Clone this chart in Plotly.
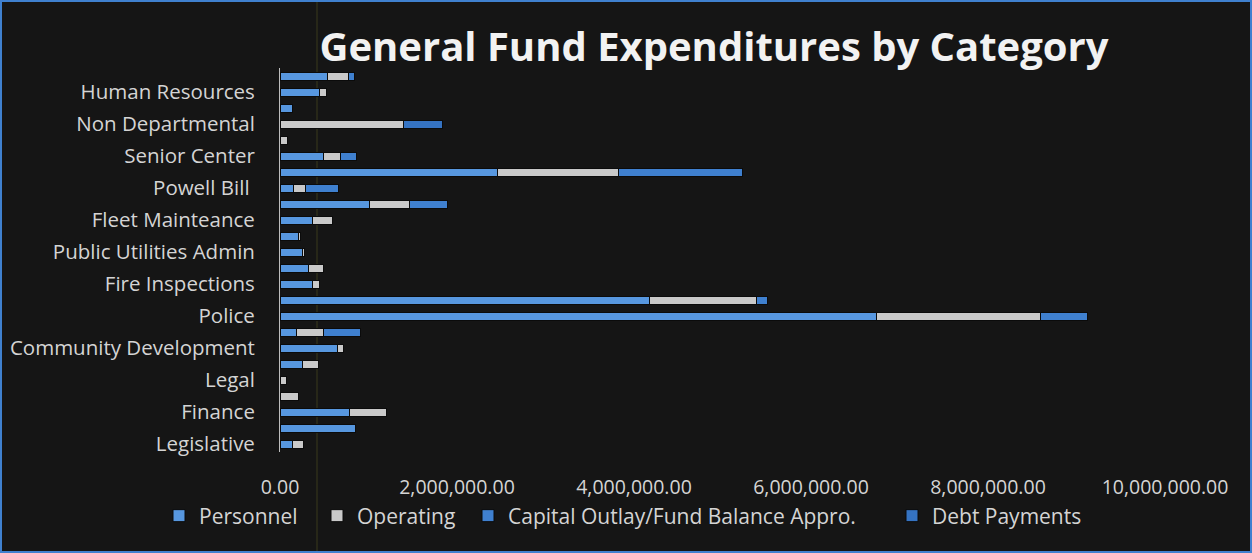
import plotly.graph_objects as go

# Bar positions from bottom (0) to top (23); only every other row is labelled
tick_positions = [0, 2, 4, 6, 8, 10, 12, 14, 16, 18, 20, 22]
tick_labels = ["Legislative", "Finance", "Legal", "Community Development", "Police",
               "Fire Inspections", "Public Utilities Admin", "Fleet Mainteance",
               "Powell Bill ", "Senior Center", "Non Departmental", "Human Resources"]
rows = list(range(24))

personnel = [141000, 853000, 785000, 0, 0, 254000, 650000, 186000, 6740000, 4180000,
             367000, 322000, 254000, 209000, 367000, 1011000, 153000, 2458000, 492000,
             0, 0, 141000, 446000, 537000]
operating = [124000, 0, 418000, 209000, 75000, 181000, 68000, 305000, 1853000, 1200000,
             80000, 170000, 23000, 20000, 226000, 452000, 136000, 1367000, 192000,
             85000, 1395000, 0, 79000, 237000]
capital = [0, 0, 0, 0, 0, 0, 0, 418000, 530000, 124000,
           0, 0, 0, 0, 0, 429000, 373000, 1401000, 181000,
           0, 0, 0, 0, 68000]
debt = [0, 0, 0, 0, 0, 0, 0, 0, 0, 0,
        0, 0, 0, 0, 0, 0, 0, 0, 0,
        0, 441000, 0, 0, 0]

series_names = ["Personnel", "Operating", "Capital Outlay/Fund Balance Appro.", "Debt Payments"]
series_values = [personnel, operating, capital, debt]
series_colors = ["#5797df", "#c9c9c9", "#3f80cf", "#3573c2"]

W, H = 1252, 553
L, R, T, B = 280, 87, 68, 101
PW, PH = W - L - R, H - T - B

fig = go.Figure()
legend_x = [159, 317, 468, 892]
for i, (name, vals, col) in enumerate(zip(series_names, series_values, series_colors)):
    lg = "legend" if i == 0 else f"legend{i+1}"
    fig.add_trace(go.Bar(
        y=rows, x=vals, name=name, orientation="h",
        marker=dict(color=col, line=dict(color="#0b0b0b", width=1)),
        legend=lg,
    ))

leg_common = dict(orientation="h", bgcolor="rgba(0,0,0,0)",
                  font=dict(family="Open Sans", size=21, color="#d4d4d4"),
                  xref="container", yref="container", xanchor="left", yanchor="middle",
                  itemwidth=30, tracegroupgap=0)

fig.update_layout(
    width=W, height=H,
    barmode="stack", bargap=0.5,
    paper_bgcolor="#151515", plot_bgcolor="#151515",
    margin=dict(l=L, r=R, t=T, b=B, autoexpand=False),
    title=dict(text="<b>General Fund Expenditures by Category</b>",
               font=dict(family="Open Sans", size=40, color="#f2f2f2"),
               x=714 / W, xref="container", xanchor="center",
               y=1 - 47 / H, yref="container", yanchor="middle"),
    xaxis=dict(range=[0, 10000000], dtick=2000000, tickformat=",.2f",
               showgrid=False, zeroline=False, showline=False, automargin=False,
               tickfont=dict(family="Open Sans", size=19.5, color="#d4d4d4"),
               ticklabelstandoff=21),
    yaxis=dict(range=[-0.5, 23.5], tickmode="array", tickvals=tick_positions,
               ticktext=tick_labels, showgrid=False, zeroline=False, automargin=False,
               showline=True, linecolor="#bdbdbd", linewidth=1,
               tickfont=dict(family="Open Sans", size=20.5, color="#d4d4d4"),
               ticklabelstandoff=20),
    showlegend=True,
)
for i in range(4):
    key = "legend" if i == 0 else f"legend{i+1}"
    fig.update_layout({key: dict(leg_common, x=legend_x[i] / W, y=1 - 516 / H)})

# frame border and faint vertical scan line
fig.add_shape(type="rect", xref="paper", yref="paper", x0=-(L - 1) / PW, x1=(W - L - 1) / PW,
              y0=-(B - 1) / PH, y1=(H - B - 1) / PH,
              line=dict(color="#3f80cf", width=2), layer="above")
fig.add_shape(type="line", xref="paper", yref="paper", x0=(317 - L) / PW, x1=(317 - L) / PW,
              y0=-B / PH, y1=(H - B) / PH,
              line=dict(color="#3b3a1c", width=1), layer="below")

fig.write_html("out.html", config={"displayModeBar": False},
               post_script="document.body.style.margin='0';document.body.style.background='#151515';")
